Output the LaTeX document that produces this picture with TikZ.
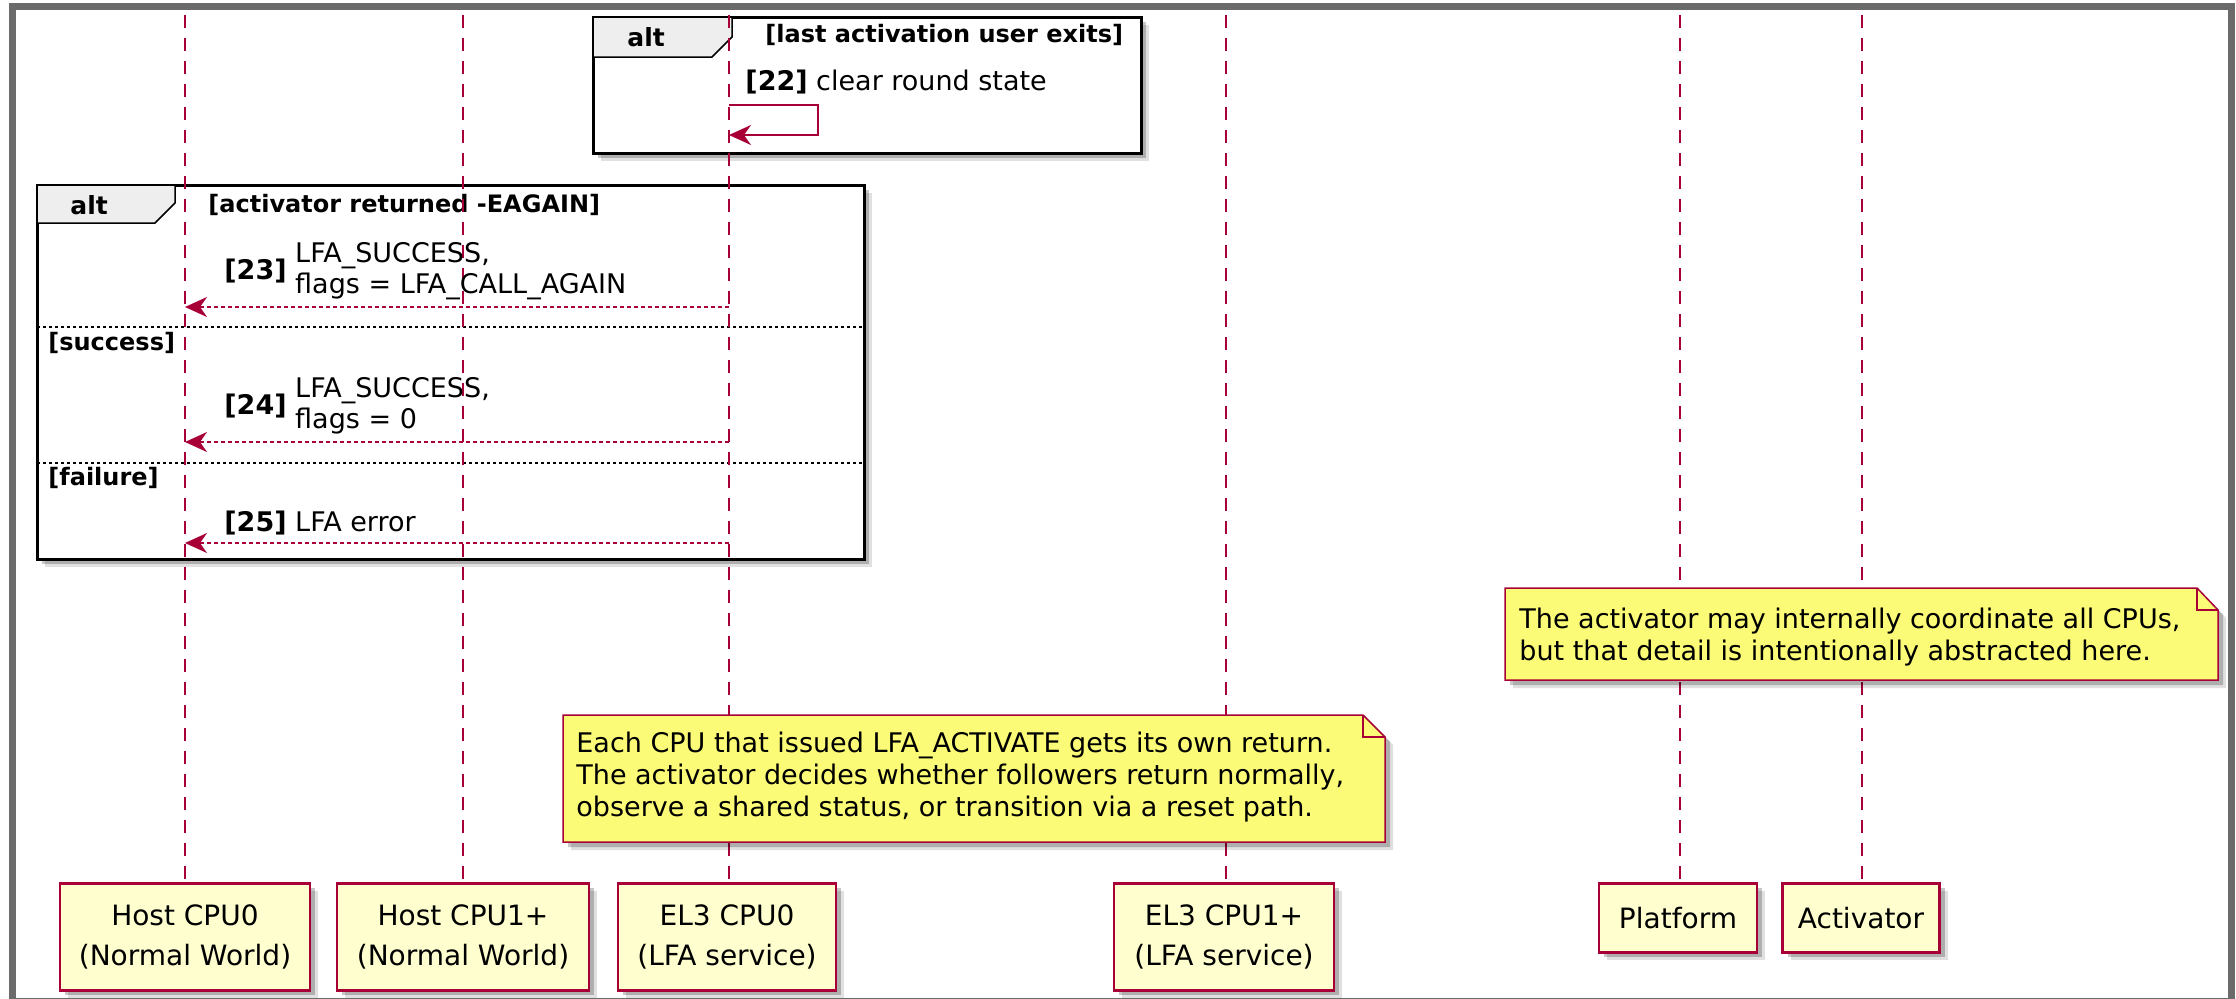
\documentclass[tikz,border=0pt]{standalone}
\usepackage{fontspec}
\setmainfont{DejaVu Sans}
\usetikzlibrary{arrows.meta,shadows}
\definecolor{pumlred}{HTML}{A80036}
\definecolor{notefill}{HTML}{FBFB77}
\definecolor{partfill}{HTML}{FEFECE}
\definecolor{tabfill}{HTML}{EEEEEE}
\definecolor{outergray}{HTML}{6B6B6B}
\newcommand{\msgfont}{\fontsize{13.5}{15.5}\selectfont}
\newcommand{\notefont}{\fontsize{13.5}{16}\selectfont}
\newcommand{\condfont}{\fontsize{12}{14}\selectfont\bfseries}
\newcommand{\altfont}{\fontsize{12.5}{14}\selectfont\bfseries}
\newcommand{\partfont}{\fontsize{14}{20}\selectfont}
\tikzset{
  shad/.style={
    drop shadow={shadow xshift=4pt, shadow yshift=-4pt, opacity=0.12, fill=black},
    drop shadow={shadow xshift=2.5pt, shadow yshift=-2.5pt, opacity=0.22, fill=black}},
  lifeline/.style={draw=pumlred, line width=1pt, dash pattern=on 6.5pt off 5pt},
  msg/.style={draw=pumlred, line width=1pt, -{Stealth[length=11pt,width=10pt,inset=3.5pt]}},
  ret/.style={msg, dash pattern=on 2pt off 1.5pt},
  grpframe/.style={draw=black, line width=1.5pt, fill=white, shad},
  grptab/.style={draw=black, line width=0.75pt, fill=tabfill},
  sep/.style={draw=black, line width=0.75pt, dash pattern=on 1.5pt off 1.5pt},
  notebox/.style={draw=pumlred, line width=0.75pt, fill=notefill, shad},
  lbl/.style={inner sep=0pt, anchor=west},
  notetext/.style={inner sep=0pt, anchor=west, align=left, font=\notefont},
  part/.style={draw=pumlred, fill=partfill, line width=1.25pt, shad, align=center,
    inner sep=0pt, anchor=north, font=\partfont},
}
\begin{document}
\begin{tikzpicture}[x=0.5pt,y=-0.5pt]
\useasboundingbox (0,0) rectangle (2236,998);
\clip (0,0) rectangle (2236,998);
\fill[white] (0,0) rectangle (2236,998);
\draw[outergray, line width=3.25pt] (12.5,6.5) rectangle (2231.5,1001);

% ---- group frames ----
\draw[grpframe] (593,17) rectangle (1141,153);
\draw[grptab] (593,17) -- (732,17) -- (732,37) -- (712,57) -- (593,57) -- cycle;
\node[lbl] (alt1) at (627,37) {\altfont alt};
\node[lbl] (cond1) at (765,35) {\condfont [last activation user exits]};

\draw[grpframe] (37,185) rectangle (864,559);
\draw[grptab] (37,185) -- (175,185) -- (175,203) -- (155,223) -- (37,223) -- cycle;
\node[lbl] (alt2) at (70,205) {\altfont alt};
\node[lbl] (cond2) at (208,205) {\condfont [activator returned -EAGAIN]};
\draw[sep] (37,327) -- (864,327);
\node[lbl] (cond3) at (48,343) {\condfont [success]};
\draw[sep] (37,463) -- (864,463);
\node[lbl] (cond4) at (48,478) {\condfont [failure]};

% ---- participants ----
\node[part, minimum width=125pt, minimum height=53.5pt] (hc0) at (185,882) {Host CPU0\\(Normal World)};
\node[part, minimum width=126pt, minimum height=53.5pt] (hc1) at (463,882) {Host CPU1+\\(Normal World)};
\node[part, minimum width=109pt, minimum height=53.5pt] (e0) at (727,882) {EL3 CPU0\\(LFA service)};
\node[part, minimum width=110pt, minimum height=53.5pt] (e1) at (1224,882) {EL3 CPU1+\\(LFA service)};
\node[part, minimum width=79pt, minimum height=34.5pt] (pf) at (1678,882) {Platform};
\node[part, minimum width=78.5pt, minimum height=34.5pt] (ac) at (1861,882) {Activator};

% ---- lifelines ----
\coordinate (hc0t) at (185,15);
\coordinate (hc1t) at (463,15);
\coordinate (e0t) at (729,15);
\coordinate (e1t) at (1226,15);
\coordinate (pft) at (1680,15);
\coordinate (act) at (1862,15);
\draw[lifeline] (hc0t) -- (hc0t |- hc0.north);
\draw[lifeline] (hc1t) -- (hc1t |- hc1.north);
\draw[lifeline] (e0t) -- (e0t |- e0.north);
\draw[lifeline] (e1t) -- (e1t |- e1.north);
\draw[lifeline] (pft) -- (pft |- pf.north);
\draw[lifeline] (act) -- (act |- ac.north);

% ---- messages ----
\coordinate (s22a) at (729,105);
\coordinate (s22b) at (729,135);
\draw[msg] (s22a) -- (818,105) -- (818,135) -- (s22b);
\node[lbl] (l22) at (745,82) {\msgfont\textbf{[22]} clear round state};

\coordinate (m23s) at (729,307);
\coordinate (m23e) at (185,307);
\draw[ret] (m23s) -- (m23e);
\node[lbl] (l23) at (224,272) {\msgfont\textbf{[23]} \begin{tabular}{@{}l@{}}LFA\_SUCCESS,\\flags = LFA\_CALL\_AGAIN\end{tabular}};

\coordinate (m24s) at (729,442);
\coordinate (m24e) at (185,442);
\draw[ret] (m24s) -- (m24e);
\node[lbl] (l24) at (224,407) {\msgfont\textbf{[24]} \begin{tabular}{@{}l@{}}LFA\_SUCCESS,\\flags = 0\end{tabular}};

\coordinate (m25s) at (729,543);
\coordinate (m25e) at (185,543);
\draw[ret] (m25s) -- (m25e);
\node[lbl] (l25) at (224,523) {\msgfont\textbf{[25]} LFA error};

% ---- notes ----
\draw[notebox] (1505,588) -- (2197,588) -- (2218,610) -- (2218,680) -- (1505,680) -- cycle;
\draw[draw=pumlred, line width=0.75pt] (2197,588) -- (2197,610) -- (2218,610);
\node[notetext] (n1) at (1519,637) {The activator may internally coordinate all CPUs,\\but that detail is intentionally abstracted here.};

\draw[notebox] (563,715) -- (1363,715) -- (1385,737) -- (1385,842) -- (563,842) -- cycle;
\draw[draw=pumlred, line width=0.75pt] (1363,715) -- (1363,737) -- (1385,737);
\node[notetext] (n2) at (576,777) {Each CPU that issued LFA\_ACTIVATE gets its own return.\\The activator decides whether followers return normally,\\observe a shared status, or transition via a reset path.};
\end{tikzpicture}
\end{document}
